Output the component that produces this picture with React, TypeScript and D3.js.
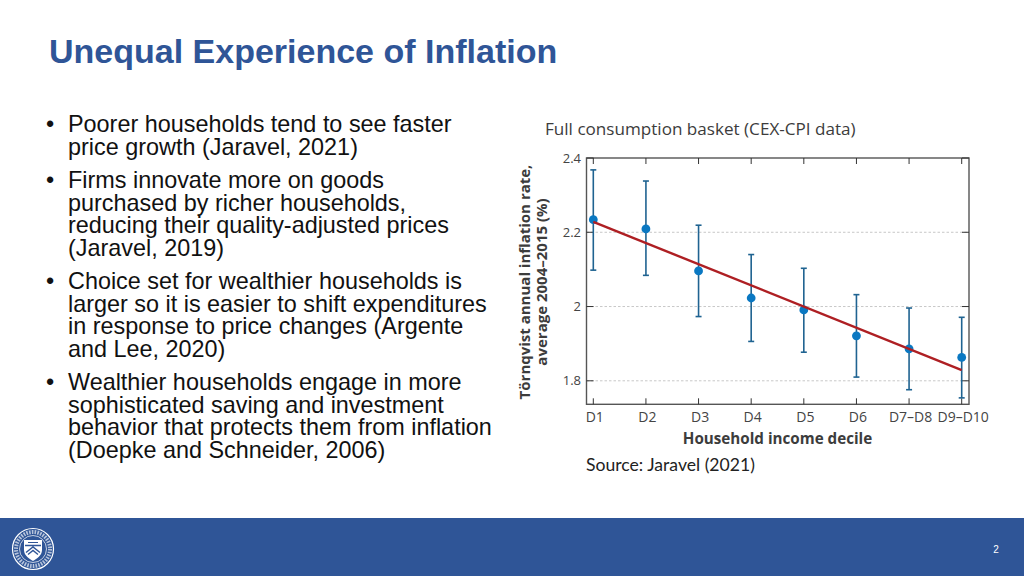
import React from "react";
import * as d3 from "d3";

const categories = ["D1", "D2", "D3", "D4", "D5", "D6", "D7–D8", "D9–D10"];
const rate = [2.234, 2.209, 2.096, 2.023, 1.991, 1.921, 1.886, 1.863];
const upper = [2.368, 2.338, 2.219, 2.14, 2.103, 2.032, 1.996, 1.971];
const lower = [2.098, 2.084, 1.973, 1.906, 1.877, 1.81, 1.776, 1.754];
const trendEnds = [2.228, 1.829];
const yTicks = [2.4, 2.2, 2, 1.8];
const yLabels = ["2.4", "2.2", "2", "1.8"];
const bullets = [
  ["Poorer households tend to see faster", "price growth (Jaravel, 2021)"],
  ["Firms innovate more on goods", "purchased by richer households,", "reducing their quality-adjusted prices", "(Jaravel, 2019)"],
  ["Choice set for wealthier households is", "larger so it is easier to shift expenditures", "in response to price changes (Argente", "and Lee, 2020)"],
  ["Wealthier households engage in more", "sophisticated saving and investment", "behavior that protects them from inflation", "(Doepke and Schneider, 2006)"],
];

const BLUE = "#2F5597";
const ARIAL = "'Liberation Sans', Arial, sans-serif";
const CHART = "'Open Sans', sans-serif";

const plot = { l: 586.5, r: 969, t: 158, b: 404.3 };
const x = d3.scalePoint<string>().domain(categories).range([593.3, 961.7]);
const y = d3.scaleLinear().domain([1.8, 2.4]).range([380.8, 158]);

function Seal({ cx, cy }: { cx: number; cy: number }) {
  return (
    <g transform={`translate(${cx},${cy})`} fill="none" stroke="#fff">
      <circle r={20.5} strokeWidth={1.2} />
      <circle r={13.5} strokeWidth={0.8} opacity={0.9} />
      <circle r={17} strokeWidth={4} strokeDasharray="1.6 1.2" opacity={0.65} />
      <path d="M-9,-9 H9 V1 C9,7 3,10 0,12 C-3,10 -9,7 -9,1 Z" fill="#fff" stroke="none" />
      <path d="M-8,-3.5 H8 M-7,3.5 L0,-2 L7,3.5 M-5,5.5 L0,1.5 L5,5.5" stroke={BLUE} strokeWidth={1.4} />
      <path d="M-5,-6.5 H5" stroke={BLUE} strokeWidth={1} />
    </g>
  );
}

export default function App() {
  let baseline = 132;
  const textRows: React.ReactNode[] = [];
  bullets.forEach((group, i) => {
    group.forEach((row, j) => {
      if (j === 0) {
        textRows.push(<text key={`b${i}`} x={46} y={baseline} fontSize={23.4}>•</text>);
      }
      textRows.push(<text key={`t${i}-${j}`} x={68} y={baseline} fontSize={23.4}>{row}</text>);
      baseline += j === group.length - 1 ? 33.6 : 22.5;
    });
  });
  const trend = d3.line<number>().x((_, i) => (i === 0 ? x(categories[0])! : x(categories[7])!)).y((d) => y(d));

  return (
    <svg width={1024} height={576} style={{ position: "fixed", left: 0, top: 0, background: "#fff" }}>
      <text x={49} y={63} fontFamily={ARIAL} fontWeight={700} fontSize={34} fill={BLUE}>Unequal Experience of Inflation</text>
      <g fontFamily={ARIAL} fill="#111">{textRows}</g>

      <text x={545} y={135} fontFamily={CHART} fontSize={17.1} fill="#3c3c3c">Full consumption basket (CEX-CPI data)</text>

      {yTicks.slice(1).map((t) => (
        <line key={t} x1={plot.l} x2={plot.r} y1={y(t)} y2={y(t)} stroke="#c8c8c8" strokeDasharray="2.5 2" />
      ))}
      <rect x={plot.l} y={plot.t} width={plot.r - plot.l} height={plot.b - plot.t} fill="none" stroke="#555" strokeWidth={1.4} />
      {yTicks.map((t) => (
        <g key={t} stroke="#333" strokeWidth={1}>
          <line x1={plot.l} x2={plot.l + 7} y1={y(t)} y2={y(t)} />
          <line x1={plot.r - 7} x2={plot.r} y1={y(t)} y2={y(t)} />
        </g>
      ))}
      {categories.map((c) => (
        <g key={c} stroke="#333" strokeWidth={1}>
          <line x1={x(c)} x2={x(c)} y1={plot.t} y2={plot.t + 6} />
          <line x1={x(c)} x2={x(c)} y1={plot.b} y2={plot.b - 6} />
        </g>
      ))}
      {yTicks.map((t, i) => (
        <text key={t} x={581} y={y(t) + 4.5} textAnchor="end" fontFamily={CHART} fontSize={13} fill="#444">{yLabels[i]}</text>
      ))}
      {categories.map((c) => (
        <text key={c} x={x(c)! + 1.5} y={422} textAnchor="middle" fontFamily={CHART} fontSize={14} fill="#444">{c}</text>
      ))}

      {categories.map((c, i) => (
        <g key={c} stroke="#1f6391" strokeWidth={1.6}>
          <line x1={x(c)} x2={x(c)} y1={y(upper[i])} y2={y(lower[i])} />
          <line x1={x(c)! - 3} x2={x(c)! + 3} y1={y(upper[i])} y2={y(upper[i])} />
          <line x1={x(c)! - 3} x2={x(c)! + 3} y1={y(lower[i])} y2={y(lower[i])} />
        </g>
      ))}
      {categories.map((c, i) => (
        <circle key={c} cx={x(c)} cy={y(rate[i])} r={4.4} fill="#0a78c2" />
      ))}
      <path d={trend(trendEnds) ?? ""} fill="none" stroke="#ae1f23" strokeWidth={2.4} />

      <text x={777.5} y={444} textAnchor="middle" fontFamily={CHART} fontWeight={700} fontSize={15.2} fill="#3c3c3c">Household income decile</text>
      <g transform="translate(530,282) rotate(-90)" fontFamily={CHART} fontWeight={700} fontSize={15} fill="#3c3c3c" textAnchor="middle">
        <text x={0} y={0}>Törnqvist annual inflation rate,</text>
        <text x={0} y={17}>average 2004–2015 (%)</text>
      </g>
      <text x={586} y={471} fontFamily="Lato, sans-serif" fontSize={17.6} fill="#222">Source: Jaravel (2021)</text>

      <rect x={0} y={518} width={1024} height={58} fill={BLUE} />
      <Seal cx={33} cy={549} />
      <text x={996} y={553} textAnchor="middle" fontFamily={ARIAL} fontSize={10} fill="#fff">2</text>
    </svg>
  );
}
